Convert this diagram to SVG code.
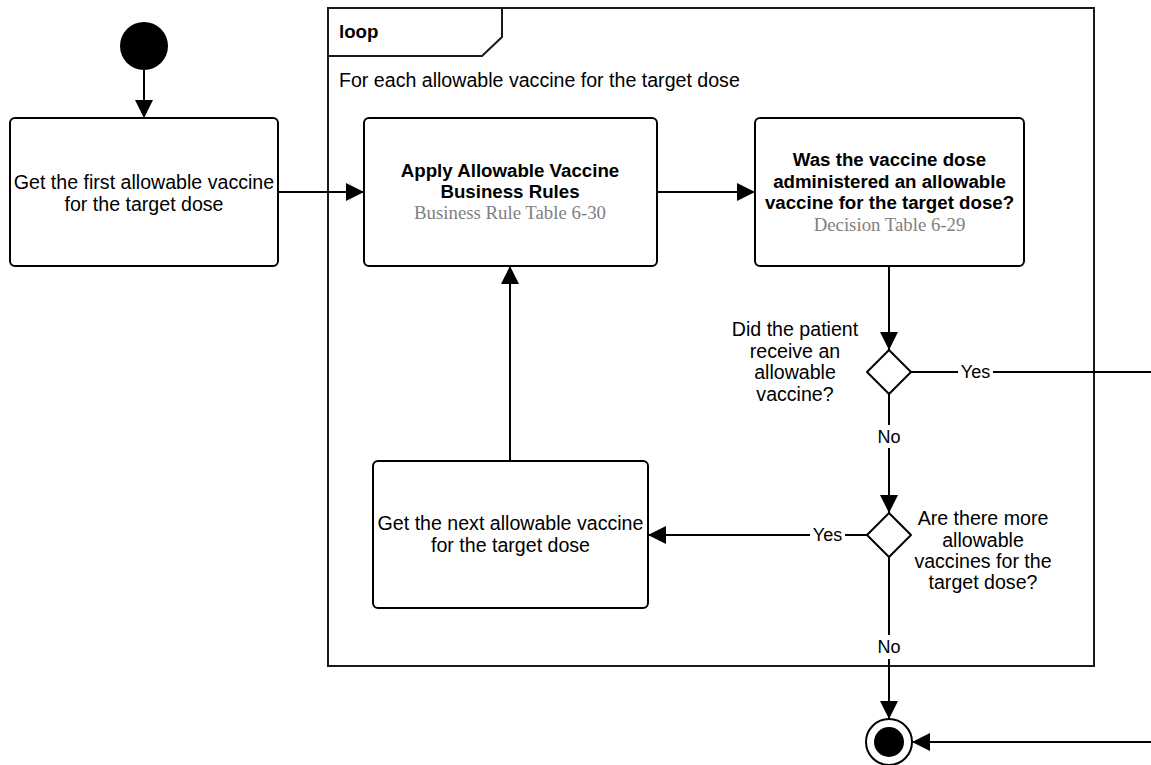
<svg xmlns="http://www.w3.org/2000/svg" width="1151" height="765" viewBox="0 0 1151 765">
<style>
.box{fill:#fff;stroke:#000;stroke-width:2}
.frame{fill:none;stroke:#1a1a1a;stroke-width:2}
.conn{fill:none;stroke:#000;stroke-width:2}
.arr{marker-end:url(#ah)}
.t{font-family:"Liberation Sans",Arial,sans-serif;font-size:19.6px;fill:#000}
.b{font-family:"Liberation Sans",Arial,sans-serif;font-size:18.7px;font-weight:bold;fill:#000}
.g{font-family:"Liberation Serif","Times New Roman",serif;font-size:18.8px;fill:#808080}
.l{font-family:"Liberation Sans",Arial,sans-serif;font-size:18px;fill:#000}
.c{text-anchor:middle}
</style>
<defs>
<marker id="ah" markerUnits="userSpaceOnUse" markerWidth="18" markerHeight="18" refX="18" refY="9" orient="auto" viewBox="0 0 18 18">
<path d="M0,0 L18,9 L0,18 Z" fill="#000"/>
</marker>
</defs>
<rect width="1151" height="765" fill="#fff"/>

<g id="loop-frame">
<rect class="frame" x="328" y="8" width="766" height="658"/>
<path class="frame" d="M328,56 H482 L502,37 V8"/>
<text class="b" x="339" y="38">loop</text>
<text class="t" x="339" y="87">For each allowable vaccine for the target dose</text>
</g>

<g id="start">
<circle cx="144" cy="46" r="24" fill="#000"/>
</g>

<g id="get-first">
<rect class="box" x="10" y="118" width="268" height="148" rx="5"/>
<text class="t c" x="144" y="189">Get the first allowable vaccine</text>
<text class="t c" x="144" y="211">for the target dose</text>
</g>

<g id="apply-rules">
<rect class="box" x="364" y="118" width="293" height="148" rx="5"/>
<text class="b c" x="510" y="177">Apply Allowable Vaccine</text>
<text class="b c" x="510" y="198">Business Rules</text>
<text class="g c" x="510" y="219">Business Rule Table 6-30</text>
</g>

<g id="was-allowable">
<rect class="box" x="755" y="118" width="269" height="148" rx="5"/>
<text class="b c" x="889.5" y="166">Was the vaccine dose</text>
<text class="b c" x="889.5" y="188">administered an allowable</text>
<text class="b c" x="889.5" y="209">vaccine for the target dose?</text>
<text class="g c" x="889.5" y="231">Decision Table 6-29</text>
</g>

<g id="decision-received">
<path class="box" d="M889,350 L911,372 L889,394 L867,372 Z" stroke-linejoin="round"/>
<text class="t c" x="795" y="336">Did the patient</text>
<text class="t c" x="795" y="357.5">receive an</text>
<text class="t c" x="795" y="379">allowable</text>
<text class="t c" x="795" y="400.5">vaccine?</text>
</g>

<g id="decision-more">
<path class="box" d="M889,513 L911,535 L889,557 L867,535 Z" stroke-linejoin="round"/>
<text class="t c" x="983" y="525">Are there more</text>
<text class="t c" x="983" y="546.5">allowable</text>
<text class="t c" x="983" y="568">vaccines for the</text>
<text class="t c" x="983" y="589">target dose?</text>
</g>

<g id="get-next">
<rect class="box" x="373" y="461" width="275" height="147" rx="5"/>
<text class="t c" x="510.5" y="530">Get the next allowable vaccine</text>
<text class="t c" x="510.5" y="552">for the target dose</text>
</g>

<g id="end">
<circle cx="889" cy="742" r="23" fill="#fff" stroke="#000" stroke-width="2"/>
<circle cx="889" cy="742" r="15" fill="#000"/>
</g>

<g id="connectors">
<path class="conn arr" d="M144,70 V118"/>
<path class="conn arr" d="M278,192 H364"/>
<path class="conn arr" d="M657,192 H755"/>
<path class="conn arr" d="M889,266 V350"/>
<path class="conn" d="M911,372 H958"/>
<path class="conn" d="M993,372 H1151"/>
<text class="l c" x="975.5" y="378">Yes</text>
<path class="conn" d="M889,394 V425"/>
<path class="conn arr" d="M889,448 V513"/>
<text class="l c" x="889" y="443">No</text>
<path class="conn" d="M867,535 H845"/>
<path class="conn arr" d="M810,535 H648"/>
<text class="l c" x="827.5" y="541">Yes</text>
<path class="conn arr" d="M510,461 V266"/>
<path class="conn" d="M889,557 V635"/>
<path class="conn arr" d="M889,659 V719"/>
<text class="l c" x="889" y="653">No</text>
<path class="conn arr" d="M1151,742 H912"/>
</g>
</svg>
